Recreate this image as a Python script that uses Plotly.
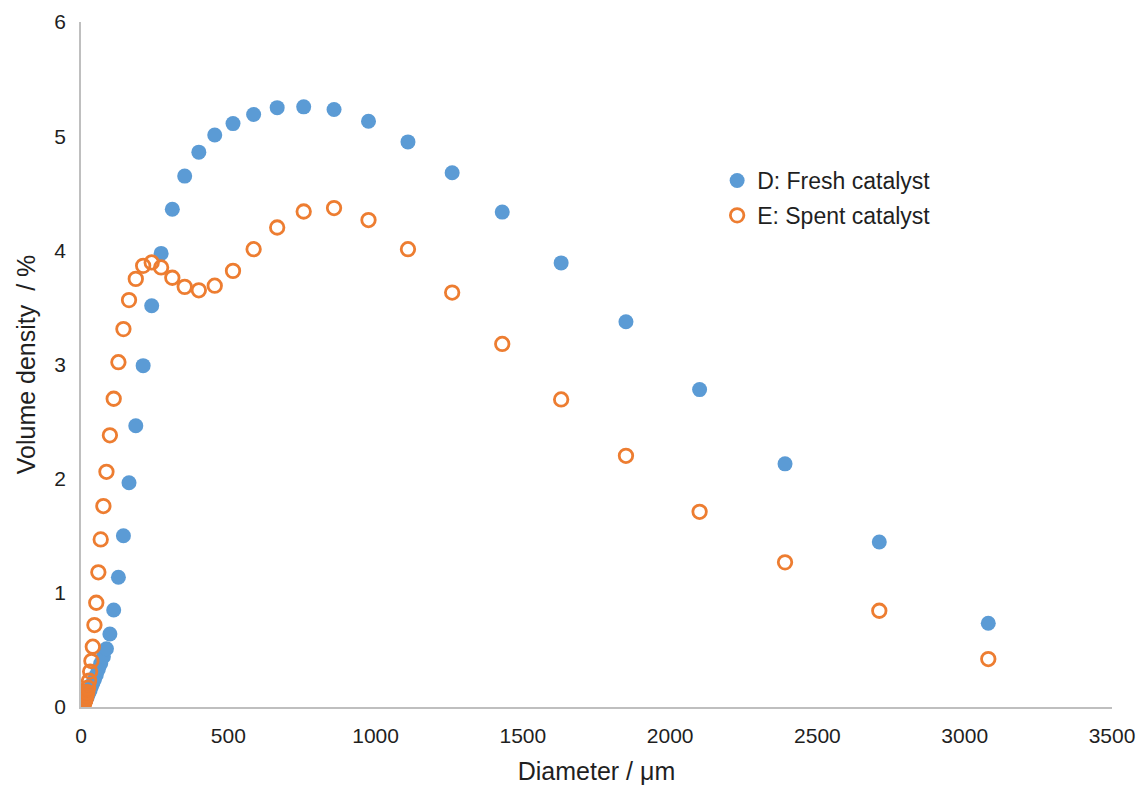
import plotly.graph_objects as go

diameter_um = [1.13, 1.28, 1.45, 1.65, 1.88, 2.13, 2.42, 2.75, 3.12, 3.55, 4.03, 4.58, 5.21, 5.92, 6.72,
               7.64, 8.68, 9.86, 11.2, 12.7, 14.5, 16.4, 18.7, 21.2, 24.1, 27.4, 31.1, 35.3, 40.1, 45.6,
               51.8, 58.9, 66.9, 76.0, 86.4, 98.1, 111, 127, 144, 163, 186, 211, 240, 272, 310, 352, 400,
               454, 516, 586, 666, 756, 859, 976, 1110, 1260, 1430, 1630, 1850, 2100, 2390, 2710, 3080]

fresh = [0, 0, 0, 0, 0, 0, 0, 0, 0, 0, 0, 0, 0.01, 0.015, 0.02,
         0.02, 0.025, 0.03, 0.035, 0.04, 0.05, 0.06, 0.08, 0.09, 0.11, 0.13, 0.15, 0.18, 0.21, 0.24,
         0.28, 0.33, 0.38, 0.44, 0.51, 0.64, 0.85, 1.136, 1.50, 1.964, 2.463, 2.99, 3.515, 3.973, 4.36, 4.65, 4.86,
         5.01, 5.11, 5.19, 5.25, 5.257, 5.233, 5.13, 4.95, 4.68, 4.335, 3.89, 3.374, 2.78, 2.13, 1.445, 0.733]

spent = [0, 0, 0, 0, 0, 0, 0, 0, 0, 0, 0, 0.01, 0.01, 0.015, 0.02,
         0.02, 0.03, 0.03, 0.04, 0.05, 0.06, 0.08, 0.10, 0.13, 0.17, 0.23, 0.31, 0.403, 0.528, 0.718,
         0.913, 1.18, 1.468, 1.76, 2.06, 2.38, 2.70, 3.02, 3.31, 3.564, 3.75, 3.864, 3.894, 3.85, 3.76, 3.68, 3.65,
         3.69, 3.82, 4.01, 4.20, 4.34, 4.37, 4.265, 4.01, 3.63, 3.18, 2.694, 2.20, 1.71, 1.267, 0.843, 0.42]

x_ticks = [0, 500, 1000, 1500, 2000, 2500, 3000, 3500]
y_ticks = [0, 1, 2, 3, 4, 5, 6]

FONT = "Liberation Sans, Arial, sans-serif"
TXT = "#1f1f1f"
AX = "#BFBFBF"

fig = go.Figure()
fig.add_trace(go.Scatter(
    x=diameter_um, y=fresh, mode="markers", name="D: Fresh catalyst", legendgroup="d",
    marker=dict(symbol="circle", size=15, color="#5B9BD5", line=dict(width=0)),
))
fig.add_trace(go.Scatter(
    x=diameter_um, y=spent, mode="markers", name="E: Spent catalyst", legendgroup="e",
    marker=dict(symbol="circle-open", size=13.5, color="#ED7D31", line=dict(width=2.8, color="#ED7D31")),
))

fig.update_layout(
    width=1139, height=784,
    margin=dict(l=73, r=35, t=14, b=85, autoexpand=False),
    paper_bgcolor="white", plot_bgcolor="white",
    font=dict(family=FONT, size=21, color=TXT),
    showlegend=True,
    legend=dict(x=0.617, y=0.80, xanchor="left", yanchor="top",
                font=dict(family=FONT, size=23, color=TXT),
                bgcolor="rgba(0,0,0,0)", itemwidth=30, tracegroupgap=2),
    xaxis=dict(
        range=[0, 3500], tickmode="array", tickvals=x_ticks, automargin=False,
        showgrid=False, zeroline=False, showline=True, linecolor=AX, linewidth=1.5,
        ticks="", ticklabelstandoff=9,
        title=dict(text="Diameter / μm", font=dict(family=FONT, size=25, color=TXT), standoff=17),
        tickfont=dict(family=FONT, size=21, color=TXT),
    ),
    yaxis=dict(
        range=[0, 6], tickmode="array", tickvals=y_ticks, automargin=False,
        showgrid=False, zeroline=False, showline=True, linecolor=AX, linewidth=1.5,
        ticks="", ticklabelstandoff=9,
        title=dict(text="Volume density \u00a0/ %", font=dict(family=FONT, size=25, color=TXT), standoff=12),
        tickfont=dict(family=FONT, size=21, color=TXT),
    ),
)

fig.write_html("out.html")
